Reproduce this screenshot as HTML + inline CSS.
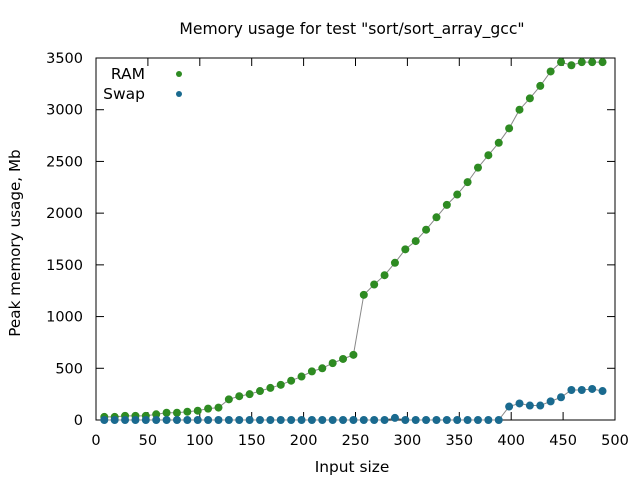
<!DOCTYPE html>
<html><head><meta charset="utf-8"><style>
body{margin:0;background:#fff}
svg{display:block;font-family:"DejaVu Sans","Liberation Sans",sans-serif}
</style></head><body>
<svg id="chart" width="640" height="480">
<text x="352" y="34" font-size="15.6" text-anchor="middle">Memory usage for test "sort/sort_array_gcc"</text>
<text x="352" y="472" font-size="15.4" text-anchor="middle">Input size</text>
<text transform="translate(20,243) rotate(-90)" font-size="15.2" text-anchor="middle">Peak memory usage, Mb</text>
<g id="axes"></g>
<g id="series"></g>
<g>
<text x="145" y="79" font-size="15.5" text-anchor="end">RAM</text>
<circle cx="179" cy="74" r="3" fill="#2e8b22"/>
<text x="145" y="99" font-size="15.5" text-anchor="end">Swap</text>
<circle cx="179" cy="94" r="3" fill="#1a6a8f"/>
</g>
</svg>
<script>
const xValues = [8,18,28,38,48,58,68,78,88,98,108,118,128,138,148,158,168,178,188,198,208,218,228,238,248,258,268,278,288,298,308,318,328,338,348,358,368,378,388,398,408,418,428,438,448,458,468,478,488];
const ramValues = [30,30,40,40,40,55,70,70,80,90,110,120,200,230,250,280,310,340,380,420,470,500,550,590,630,1210,1310,1400,1520,1650,1730,1840,1960,2080,2180,2300,2440,2560,2680,2820,3000,3110,3230,3370,3460,3430,3460,3460,3460];
const swapValues = [0,0,0,0,0,0,0,0,0,0,0,0,0,0,0,0,0,0,0,0,0,0,0,0,0,0,0,0,20,0,0,0,0,0,0,0,0,0,0,130,160,140,140,180,220,290,290,300,280];
const xTicks = [0,50,100,150,200,250,300,350,400,450,500];
const yTicks = [0,500,1000,1500,2000,2500,3000,3500];
const L=96,R=615,T=58,B=420;
const sx=v=>L+(v-0)/500*(R-L);
const sy=v=>B-(v-0)/3500*(B-T);
const NS="http://www.w3.org/2000/svg";
const axes=document.getElementById('axes');
const series=document.getElementById('series');
function mk(tag,attrs,parent){const e=document.createElementNS(NS,tag);for(const k in attrs)e.setAttribute(k,attrs[k]);parent.appendChild(e);return e;}
const frame=mk('rect',{x:L,y:T,width:R-L,height:B-T,fill:'none',stroke:'#000','stroke-width':1},axes);


xTicks.forEach(v=>{
  const x=sx(v);
  const t1=mk('line',{x1:x,y1:B,x2:x,y2:B-8,stroke:'#000'},axes);
  
  
  const t2=mk('line',{x1:x,y1:T,x2:x,y2:T+8,stroke:'#000'},axes);
  
  
  const lb=mk('text',{x:x,y:B+25,'font-size':14.5,'text-anchor':'middle'},axes);
  lb.textContent=v;
  
  
});
yTicks.forEach(v=>{
  const y=sy(v);
  const t1=mk('line',{x1:L,y1:y,x2:L+8,y2:y,stroke:'#000'},axes);
  
  
  const t2=mk('line',{x1:R,y1:y,x2:R-8,y2:y,stroke:'#000'},axes);
  
  
  const lb=mk('text',{x:L-13,y:y+5,'font-size':14.5,'text-anchor':'end'},axes);
  lb.textContent=v;
  
  
});
function draw(vals,color,name){
  const pts=xValues.map((x,i)=>sx(x)+','+sy(vals[i])).join(' ');
  const pl=mk('polyline',{points:pts,fill:'none',stroke:'#888','stroke-width':1},series);
  
  
  xValues.forEach((x,i)=>{
    const c=mk('circle',{cx:sx(x),cy:sy(vals[i]),r:4,fill:color},series);
    
    
  });
}
draw(ramValues,'#2e8b22','ram');
draw(swapValues,'#1a6a8f','swap');
</script>
</body></html>
